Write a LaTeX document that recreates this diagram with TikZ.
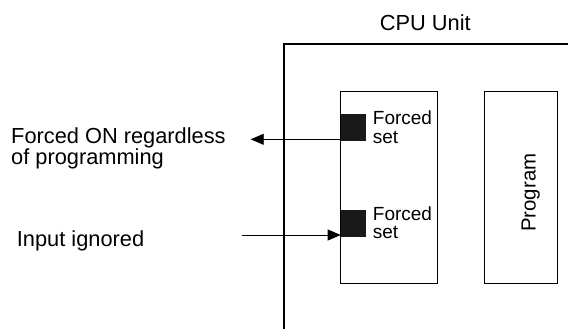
\documentclass[tikz,border=0pt]{standalone}
\usepackage{fontspec}
\setmainfont{Liberation Sans}
\usetikzlibrary{arrows.meta}
\begin{document}
\begin{tikzpicture}[x=1pt,y=-1pt,
  lbl/.style={inner sep=0pt,anchor=base west,font=\fontsize{21.8}{20.7}\selectfont,align=left},
  small/.style={inner sep=0pt,anchor=base west,font=\fontsize{19}{18.3}\selectfont,align=left},
  boxline/.style={draw,line width=1.3pt},
  blk/.style={fill=black!90,draw=none},
  arr/.style={line width=0.9pt,-{Triangle[length=13pt,width=11pt]}}]
\useasboundingbox (0,0) rectangle (568,329);
% outer CPU unit
\coordinate (cpuBL) at (284,329);
\coordinate (cpuTL) at (284,44);
\coordinate (cpuTR) at (568,44);
\draw[line width=1.7pt] (cpuBL) -- (cpuTL) -- (cpuTR);
\node[inner sep=0pt,anchor=base,font=\fontsize{21.8}{22}\selectfont] (cpu) at (425.3,30.7) {CPU Unit};
% memory box
\node[boxline,minimum width=96.6pt,minimum height=192pt,inner sep=0pt] (mem) at (389,187.3) {};
% program box
\node[boxline,minimum width=72.6pt,minimum height=192pt,inner sep=0pt] (prog) at (521,187.3) {};
\node[inner sep=0pt,anchor=base west,rotate=90,font=\fontsize{20.4}{20}\selectfont] (progt) at (535.7,232) {Program};
% black squares
\node[blk,minimum width=25.3pt,minimum height=26.4pt,inner sep=0pt] (sq1) at (353.3,127.5) {};
\node[blk,minimum width=25.3pt,minimum height=26.7pt,inner sep=0pt] (sq2) at (353.3,223.3) {};
\node[small] (fs1) at (372.7,143.3) {Forced\\set};
\node[small] (fs2) at (372.7,238.3) {Forced\\set};
% left labels
\node[lbl] (l1) at (11,164) {Forced ON regardless\\of programming};
\node[lbl] (l2) at (16.7,246.7) {Input ignored};
% arrows
\coordinate (a1s) at (340.7,139.3);
\coordinate (a1e) at (250.7,139.3);
\draw[arr] (a1s) -- (a1e);
\coordinate (a2s) at (241.7,235);
\coordinate (a2e) at (340.7,235);
\draw[arr] (a2s) -- (a2e);
\end{tikzpicture}
\end{document}
